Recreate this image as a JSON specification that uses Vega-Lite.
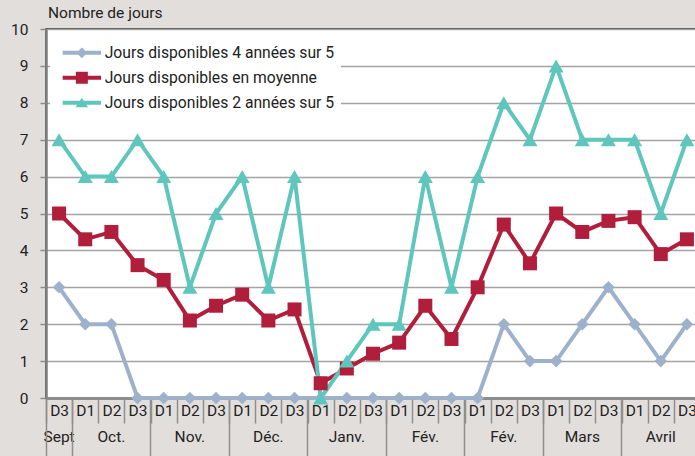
{
  "$schema": "https://vega.github.io/schema/vega-lite/v6.json",
  "autosize": "none",
  "width": 654,
  "height": 369,
  "padding": {"left": 46, "top": 29, "right": 0, "bottom": 60},
  "background": "#e2dedb",
  "config": {
    "font": "Roboto",
    "view": {"stroke": "#222222", "strokeWidth": 1.5, "fill": "white"}
  },
  "title": {
    "text": "Nombre de jours",
    "anchor": "start",
    "frame": "group",
    "fontSize": 15.5,
    "fontWeight": "normal",
    "color": "#222222",
    "font": "Roboto",
    "baseline": "alphabetic",
    "offset": 8,
    "dx": 2,
    "dy": 19
  },
  "data": {
    "values": [
      {"periode": "0-Sept-D3", "Jours disponibles 4 années sur 5": 3, "Jours disponibles en moyenne": 5.0, "Jours disponibles 2 années sur 5": 7},
      {"periode": "1-Oct.-D1", "Jours disponibles 4 années sur 5": 2, "Jours disponibles en moyenne": 4.3, "Jours disponibles 2 années sur 5": 6},
      {"periode": "1-Oct.-D2", "Jours disponibles 4 années sur 5": 2, "Jours disponibles en moyenne": 4.5, "Jours disponibles 2 années sur 5": 6},
      {"periode": "1-Oct.-D3", "Jours disponibles 4 années sur 5": 0, "Jours disponibles en moyenne": 3.6, "Jours disponibles 2 années sur 5": 7},
      {"periode": "2-Nov.-D1", "Jours disponibles 4 années sur 5": 0, "Jours disponibles en moyenne": 3.2, "Jours disponibles 2 années sur 5": 6},
      {"periode": "2-Nov.-D2", "Jours disponibles 4 années sur 5": 0, "Jours disponibles en moyenne": 2.1, "Jours disponibles 2 années sur 5": 3},
      {"periode": "2-Nov.-D3", "Jours disponibles 4 années sur 5": 0, "Jours disponibles en moyenne": 2.5, "Jours disponibles 2 années sur 5": 5},
      {"periode": "3-Déc.-D1", "Jours disponibles 4 années sur 5": 0, "Jours disponibles en moyenne": 2.8, "Jours disponibles 2 années sur 5": 6},
      {"periode": "3-Déc.-D2", "Jours disponibles 4 années sur 5": 0, "Jours disponibles en moyenne": 2.1, "Jours disponibles 2 années sur 5": 3},
      {"periode": "3-Déc.-D3", "Jours disponibles 4 années sur 5": 0, "Jours disponibles en moyenne": 2.4, "Jours disponibles 2 années sur 5": 6},
      {"periode": "4-Janv.-D1", "Jours disponibles 4 années sur 5": 0, "Jours disponibles en moyenne": 0.4, "Jours disponibles 2 années sur 5": 0},
      {"periode": "4-Janv.-D2", "Jours disponibles 4 années sur 5": 0, "Jours disponibles en moyenne": 0.8, "Jours disponibles 2 années sur 5": 1},
      {"periode": "4-Janv.-D3", "Jours disponibles 4 années sur 5": 0, "Jours disponibles en moyenne": 1.2, "Jours disponibles 2 années sur 5": 2},
      {"periode": "5-Fév.-D1", "Jours disponibles 4 années sur 5": 0, "Jours disponibles en moyenne": 1.5, "Jours disponibles 2 années sur 5": 2},
      {"periode": "5-Fév.-D2", "Jours disponibles 4 années sur 5": 0, "Jours disponibles en moyenne": 2.5, "Jours disponibles 2 années sur 5": 6},
      {"periode": "5-Fév.-D3", "Jours disponibles 4 années sur 5": 0, "Jours disponibles en moyenne": 1.6, "Jours disponibles 2 années sur 5": 3},
      {"periode": "6-Fév.-D1", "Jours disponibles 4 années sur 5": 0, "Jours disponibles en moyenne": 3.0, "Jours disponibles 2 années sur 5": 6},
      {"periode": "6-Fév.-D2", "Jours disponibles 4 années sur 5": 2, "Jours disponibles en moyenne": 4.7, "Jours disponibles 2 années sur 5": 8},
      {"periode": "6-Fév.-D3", "Jours disponibles 4 années sur 5": 1, "Jours disponibles en moyenne": 3.65, "Jours disponibles 2 années sur 5": 7},
      {"periode": "7-Mars-D1", "Jours disponibles 4 années sur 5": 1, "Jours disponibles en moyenne": 5.0, "Jours disponibles 2 années sur 5": 9},
      {"periode": "7-Mars-D2", "Jours disponibles 4 années sur 5": 2, "Jours disponibles en moyenne": 4.5, "Jours disponibles 2 années sur 5": 7},
      {"periode": "7-Mars-D3", "Jours disponibles 4 années sur 5": 3, "Jours disponibles en moyenne": 4.8, "Jours disponibles 2 années sur 5": 7},
      {"periode": "8-Avril-D1", "Jours disponibles 4 années sur 5": 2, "Jours disponibles en moyenne": 4.9, "Jours disponibles 2 années sur 5": 7},
      {"periode": "8-Avril-D2", "Jours disponibles 4 années sur 5": 1, "Jours disponibles en moyenne": 3.9, "Jours disponibles 2 années sur 5": 5},
      {"periode": "8-Avril-D3", "Jours disponibles 4 années sur 5": 2, "Jours disponibles en moyenne": 4.3, "Jours disponibles 2 années sur 5": 7}
    ]
  },
  "transform": [
    {"fold": ["Jours disponibles 4 années sur 5", "Jours disponibles en moyenne", "Jours disponibles 2 années sur 5"], "as": ["serie", "jours"]}
  ],
  "encoding": {
    "y": {
      "field": "jours", "type": "quantitative",
      "scale": {"domain": [0, 10], "nice": false},
      "axis": {
        "title": null, "tickCount": 10, "tickMinStep": 1,
        "labelOverlap": false,
        "grid": true, "gridColor": "#a3a3a3", "gridWidth": 1.5,
        "domainColor": "#7f7f7f", "domainWidth": 2.5,
        "tickColor": "#8c8c8c", "tickSize": 6, "tickWidth": 1.5,
        "labelPadding": 12, "labelFontSize": 15.5, "labelColor": "#222222"
      }
    }
  },
  "layer": [
    {
      "mark": {"type": "line", "strokeWidth": 4},
      "encoding": {
        "x": {
          "field": "periode", "type": "ordinal",
          "scale": {"paddingInner": 0, "paddingOuter": 0},
          "axis": {
            "orient": "bottom", "title": null, "grid": false,
            "tickBand": "extent", "tickSize": 25, "tickColor": "#8f8f8f", "tickWidth": 1.5,
            "domainColor": "#8c8c8c", "domainWidth": 3,
            "labelExpr": "split(datum.value, '-')[2]",
            "labelAngle": 0, "labelFontSize": 15.5, "labelColor": "#222222",
            "labelBaseline": "top", "labelPadding": -20
          }
        },
        "stroke": {
          "field": "serie", "type": "nominal",
          "scale": {"range": ["#5ec6bd", "#9db1cb", "#b01e3c"]},
          "legend": null
        }
      }
    },
    {
      "mark": {"type": "point", "filled": true, "opacity": 1, "strokeWidth": 0},
      "encoding": {
        "x": {
          "field": "periode", "type": "ordinal",
          "axis": {
            "orient": "bottom", "title": null, "grid": false,
            "values": ["0-Sept-D3", "1-Oct.-D2", "2-Nov.-D2", "3-Déc.-D2", "4-Janv.-D2", "5-Fév.-D2", "6-Fév.-D2", "7-Mars-D2", "8-Avril-D2"],
            "ticks": false, "tickSize": 0, "domain": false,
            "labelExpr": "split(datum.value, '-')[1]",
            "labelAngle": 0, "labelFontSize": 15.5, "labelColor": "#222222",
            "labelBaseline": "top", "labelPadding": 31
          }
        },
        "fill": {
          "field": "serie", "type": "nominal",
          "scale": {"range": ["#5ec6bd", "#9db1cb", "#b01e3c"]},
          "legend": null
        },
        "shape": {
          "condition": [
            {"test": "datum.serie === 'Jours disponibles en moyenne'", "value": "square"},
            {"test": "datum.serie === 'Jours disponibles 2 années sur 5'", "value": "triangle-up"}
          ],
          "value": "diamond"
        },
        "size": {
          "condition": [
            {"test": "datum.serie === 'Jours disponibles en moyenne'", "value": 196},
            {"test": "datum.serie === 'Jours disponibles 2 années sur 5'", "value": 225}
          ],
          "value": 160
        }
      }
    },
    {
      "mark": {"type": "point", "filled": true, "opacity": 0},
      "encoding": {
        "x": {
          "field": "periode", "type": "ordinal",
          "axis": {
            "orient": "bottom", "title": null, "grid": false,
            "values": ["0-Sept-D3", "1-Oct.-D1", "2-Nov.-D1", "3-Déc.-D1", "4-Janv.-D1", "5-Fév.-D1", "6-Fév.-D1", "7-Mars-D1", "8-Avril-D1"],
            "bandPosition": 0, "tickSize": 58, "tickColor": "#8f8f8f", "tickWidth": 1.5,
            "labels": false, "domain": false
          }
        },
        "color": {
          "field": "serie", "type": "nominal",
          "scale": {
            "domain": ["Jours disponibles 4 années sur 5", "Jours disponibles en moyenne", "Jours disponibles 2 années sur 5"],
            "range": ["#9db1cb", "#b01e3c", "#5ec6bd"]
          },
          "legend": {
            "title": null, "orient": "none", "legendX": 4, "legendY": 10,
            "padding": 6, "fillColor": "white",
            "symbolOffset": 18, "labelOffset": 15, "symbolSize": 144, "symbolOpacity": 1,
            "symbolStrokeWidth": 0,
            "labelFontSize": 15.7, "labelColor": "#222222", "labelLimit": 400,
            "rowPadding": 8
          }
        },
        "shape": {
          "field": "serie", "type": "nominal",
          "scale": {
            "domain": ["Jours disponibles 4 années sur 5", "Jours disponibles en moyenne", "Jours disponibles 2 années sur 5"],
            "range": [
              "M-3.2,-0.33L3.2,-0.33L3.2,0.33L-3.2,0.33ZM0,-0.9L0.9,0L0,0.9L-0.9,0Z",
              "M-3.2,-0.33L3.2,-0.33L3.2,0.33L-3.2,0.33ZM-1,-1L1,-1L1,1L-1,1Z",
              "M-3.2,-0.33L3.2,-0.33L3.2,0.33L-3.2,0.33ZM0,-0.85L1.05,0.75L-1.05,0.75Z"
            ]
          },
          "legend": {
            "title": null, "orient": "none", "legendX": 4, "legendY": 10,
            "padding": 6, "fillColor": "white",
            "symbolOffset": 18, "labelOffset": 15, "symbolSize": 144, "symbolOpacity": 1,
            "symbolStrokeWidth": 0,
            "labelFontSize": 15.7, "labelColor": "#222222", "labelLimit": 400,
            "rowPadding": 8
          }
        }
      }
    }
  ],
  "resolve": {"axis": {"x": "independent"}}
}
